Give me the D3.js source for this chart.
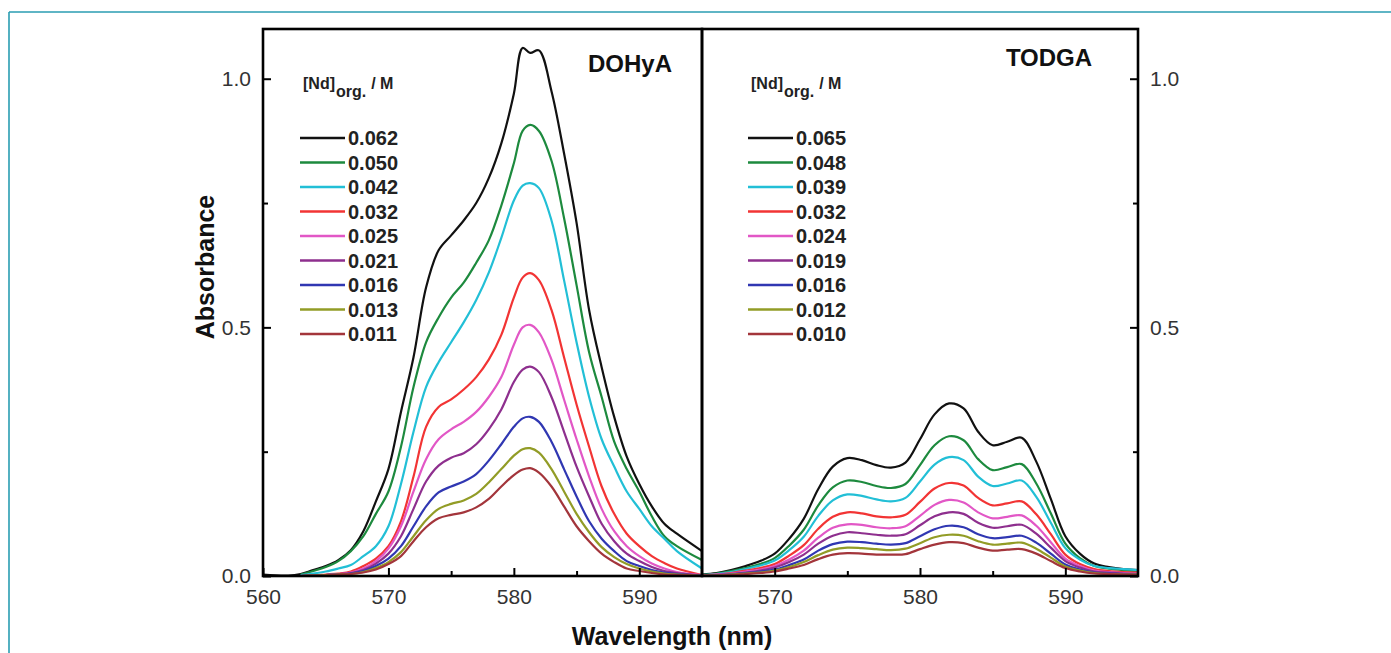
<!DOCTYPE html>
<html>
<head>
<meta charset="utf-8">
<script src="https://cdn.jsdelivr.net/npm/d3@7"></script>
<style>
  body { margin: 0; background: #fff; }
  svg { display: block; font-family: "Liberation Sans", Arial, sans-serif; }
</style>
</head>
<body>
<div id="chart"></div>
<script>
// wavelength grids (nm)
const wlLeft = [560,562,563,564,565,566,567,568,569,570,571,572,573,574,575,576,577,578,579,580,580.7,581.3,582,583,584,585,586,587,588,589,590,591,592,593,595]
const wlRight = [565,566,567,568,569,570,571,572,573,574,575,576,577,578,579,580,581,582,583,584,585,586,587,588,589,590,591,592,593,594,595]

// DOHyA spectra, absorbance
const dohya062 = [0.003,0.001,0.004,0.012,0.02,0.032,0.052,0.09,0.15,0.215,0.33,0.44,0.58,0.655,0.685,0.715,0.75,0.8,0.87,0.97,1.062,1.052,1.057,0.975,0.85,0.71,0.535,0.42,0.32,0.24,0.185,0.14,0.105,0.085,0.05]
const dohya050 = [null,null,0.003,0.01,0.018,0.03,0.05,0.08,0.125,0.17,0.26,0.38,0.47,0.52,0.56,0.59,0.63,0.675,0.745,0.83,0.895,0.907,0.895,0.835,0.72,0.585,0.45,0.36,0.27,0.215,0.17,0.12,0.08,0.06,0.032]
const dohya042 = [null,null,0.002,0.005,0.009,0.015,0.022,0.04,0.06,0.1,0.185,0.29,0.38,0.43,0.47,0.51,0.555,0.61,0.68,0.755,0.785,0.79,0.78,0.715,0.595,0.47,0.36,0.275,0.22,0.17,0.135,0.1,0.075,0.05,0.015]
const dohya032 = [null,null,0,0.001,0.003,0.005,0.009,0.02,0.035,0.06,0.11,0.2,0.3,0.34,0.355,0.375,0.4,0.435,0.485,0.56,0.6,0.609,0.595,0.535,0.44,0.345,0.26,0.18,0.125,0.085,0.06,0.04,0.026,0.015,0.002]
const dohya025 = [null,null,0,0.001,0.002,0.004,0.007,0.015,0.03,0.055,0.1,0.17,0.235,0.275,0.295,0.31,0.33,0.36,0.4,0.465,0.5,0.505,0.49,0.435,0.355,0.275,0.2,0.135,0.09,0.06,0.04,0.025,0.015,0.008,0.002]
const dohya021 = [null,null,0,0.001,0.002,0.004,0.006,0.012,0.025,0.045,0.08,0.135,0.19,0.222,0.238,0.247,0.265,0.295,0.335,0.39,0.415,0.421,0.41,0.36,0.29,0.22,0.16,0.105,0.07,0.045,0.03,0.018,0.01,0.006,0.001]
const dohya016 = [null,null,0,0.001,0.002,0.003,0.005,0.01,0.02,0.035,0.06,0.1,0.14,0.168,0.18,0.19,0.205,0.232,0.265,0.3,0.317,0.32,0.31,0.27,0.215,0.16,0.11,0.075,0.05,0.03,0.02,0.012,0.007,0.004,0.001]
const dohya013 = [null,null,0,0.001,0.002,0.003,0.004,0.008,0.016,0.028,0.048,0.08,0.112,0.135,0.145,0.152,0.165,0.188,0.215,0.242,0.255,0.257,0.248,0.215,0.17,0.125,0.088,0.058,0.038,0.024,0.015,0.009,0.005,0.003,0]
const dohya011 = [null,null,0,0.001,0.001,0.003,0.004,0.007,0.013,0.024,0.04,0.07,0.098,0.116,0.123,0.128,0.138,0.155,0.18,0.203,0.214,0.217,0.208,0.18,0.14,0.1,0.07,0.045,0.028,0.015,0.01,0.006,0.003,0.002,0]

// TODGA spectra, absorbance
const todga065 = [0.003,0.006,0.012,0.02,0.03,0.045,0.075,0.115,0.175,0.22,0.237,0.233,0.223,0.218,0.228,0.275,0.325,0.347,0.337,0.29,0.263,0.27,0.278,0.23,0.155,0.08,0.045,0.025,0.018,0.014,0.012]
const todga048 = [0.002,0.005,0.01,0.016,0.024,0.036,0.061,0.093,0.142,0.178,0.192,0.189,0.181,0.177,0.185,0.223,0.263,0.281,0.273,0.235,0.213,0.219,0.225,0.186,0.126,0.065,0.036,0.02,0.015,0.012,0.01]
const todga039 = [0.002,0.004,0.008,0.014,0.021,0.031,0.052,0.079,0.121,0.152,0.164,0.161,0.154,0.15,0.157,0.19,0.224,0.239,0.233,0.2,0.181,0.186,0.192,0.159,0.107,0.056,0.033,0.02,0.016,0.014,0.012]
const todga032 = [0.002,0.003,0.006,0.011,0.016,0.024,0.041,0.062,0.095,0.119,0.128,0.126,0.12,0.118,0.123,0.149,0.176,0.187,0.182,0.157,0.142,0.146,0.15,0.124,0.084,0.043,0.024,0.014,0.01,0.008,0.007]
const todga024 = [0.001,0.003,0.005,0.009,0.013,0.02,0.033,0.051,0.077,0.097,0.104,0.103,0.098,0.096,0.1,0.121,0.143,0.153,0.148,0.128,0.116,0.119,0.122,0.101,0.068,0.035,0.02,0.011,0.008,0.006,0.005]
const todga019 = [0.001,0.002,0.004,0.007,0.011,0.017,0.028,0.043,0.065,0.081,0.088,0.086,0.083,0.081,0.084,0.102,0.12,0.128,0.125,0.107,0.097,0.1,0.103,0.085,0.057,0.03,0.017,0.009,0.007,0.005,0.004]
const todga016 = [0.001,0.002,0.003,0.006,0.009,0.013,0.022,0.033,0.051,0.064,0.069,0.068,0.065,0.063,0.066,0.08,0.094,0.101,0.098,0.084,0.076,0.078,0.081,0.067,0.045,0.023,0.013,0.007,0.005,0.004,0.003]
const todga012 = [0.001,0.001,0.003,0.005,0.007,0.011,0.018,0.028,0.042,0.053,0.057,0.056,0.054,0.052,0.055,0.066,0.078,0.083,0.081,0.07,0.063,0.065,0.067,0.055,0.037,0.019,0.011,0.006,0.004,0.003,0.003]
const todga010 = [0.001,0.001,0.002,0.004,0.006,0.009,0.015,0.022,0.034,0.043,0.046,0.045,0.043,0.043,0.044,0.054,0.063,0.068,0.066,0.057,0.051,0.053,0.054,0.045,0.03,0.016,0.009,0.005,0.004,0.003,0.002]

// legend labels ([Nd]org. / M)
const concLeft = ['0.062','0.050','0.042','0.032','0.025','0.021','0.016','0.013','0.011']
const concRight = ['0.065','0.048','0.039','0.032','0.024','0.019','0.016','0.012','0.010']
const colors = ['#111111','#1d8a3e','#22bfd6','#f23434','#e257c6','#8e2f8e','#3037b2','#929c26','#a3353b']

// tick values
const xTicksLeft = [560,570,580,590]
const xTicksRight = [570,580,590]
const xMinor = [575,585]
const yTicks = [0,0.5,1.0]
const yMinor = [0.25,0.75]

const leftSeries = [dohya062,dohya050,dohya042,dohya032,dohya025,dohya021,dohya016,dohya013,dohya011]
const rightSeries = [todga065,todga048,todga039,todga032,todga024,todga019,todga016,todga012,todga010]

const W = 1391, H = 653
const plotTop = 29, plotBottom = 576
const xLeft0 = 263, xMid = 702, xRight1 = 1138

const svg = d3.select('#chart').append('svg').attr('width', W).attr('height', H)

// page frame (top & left only)
svg.append('line').attr('x1', 9).attr('x2', W).attr('y1', 12).attr('y2', 12)
    .attr('stroke', '#2a9db2').attr('stroke-width', 1.6)
svg.append('line').attr('x1', 9).attr('x2', 9).attr('y1', 12).attr('y2', H)
    .attr('stroke', '#2a9db2').attr('stroke-width', 1.6)

const yScale = d3.scaleLinear().domain([0, 1.1]).range([plotBottom, plotTop])
const xScaleL = d3.scaleLinear().domain([560, 595]).range([xLeft0, xMid])
const xScaleR = d3.scaleLinear().domain([565, 595]).range([xMid, xRight1])

function drawCurves(xs, wl, series) {
    const line = d3.line()
        .defined(d => d[1] != null)
        .x(d => xs(d[0]))
        .y(d => yScale(Math.max(0, d[1])))
        .curve(d3.curveCatmullRom.alpha(0.5))
    series.forEach((vals, i) => {
        svg.append('path')
            .datum(wl.map((w, j) => [w, vals[j]]))
            .attr('d', line)
            .attr('fill', 'none')
            .attr('stroke', colors[i])
            .attr('stroke-width', 2.2)
            .attr('stroke-linejoin', 'round')
    })
}

drawCurves(xScaleL, wlLeft, leftSeries)
drawCurves(xScaleR, wlRight, rightSeries)

function styleAxis(g) {
    g.select('.domain').remove()
    g.selectAll('line').attr('stroke', '#000').attr('stroke-width', 2)
    g.selectAll('text').style('font-size', '21px').attr('fill', '#333')
}

// bottom axes
svg.append('g').attr('transform', `translate(0,${plotBottom})`)
    .call(d3.axisBottom(xScaleL).tickValues(xTicksLeft).tickSize(-8).tickPadding(13).tickFormat(d3.format('d')))
    .call(styleAxis)
svg.append('g').attr('transform', `translate(0,${plotBottom})`)
    .call(d3.axisBottom(xScaleL).tickValues(xMinor).tickSize(-5).tickFormat(''))
    .call(styleAxis)
svg.append('g').attr('transform', `translate(0,${plotBottom})`)
    .call(d3.axisBottom(xScaleR).tickValues(xTicksRight).tickSize(-8).tickPadding(13).tickFormat(d3.format('d')))
    .call(styleAxis)
svg.append('g').attr('transform', `translate(0,${plotBottom})`)
    .call(d3.axisBottom(xScaleR).tickValues(xMinor).tickSize(-5).tickFormat(''))
    .call(styleAxis)

// left y axis (DOHyA) and right y axis (TODGA)
svg.append('g').attr('transform', `translate(${xLeft0},0)`)
    .call(d3.axisLeft(yScale).tickValues(yTicks).tickSize(-8).tickPadding(12).tickFormat(d3.format('.1f')))
    .call(styleAxis)
svg.append('g').attr('transform', `translate(${xLeft0},0)`)
    .call(d3.axisLeft(yScale).tickValues(yMinor).tickSize(-5).tickFormat(''))
    .call(styleAxis)
svg.append('g').attr('transform', `translate(${xRight1},0)`)
    .call(d3.axisRight(yScale).tickValues(yTicks).tickSize(-8).tickPadding(12).tickFormat(d3.format('.1f')))
    .call(styleAxis)
svg.append('g').attr('transform', `translate(${xRight1},0)`)
    .call(d3.axisRight(yScale).tickValues(yMinor).tickSize(-5).tickFormat(''))
    .call(styleAxis)

// panel frames
svg.append('rect').attr('x', xLeft0).attr('y', plotTop)
    .attr('width', xMid - xLeft0).attr('height', plotBottom - plotTop)
    .attr('fill', 'none').attr('stroke', '#000').attr('stroke-width', 2.6)
svg.append('rect').attr('x', xMid).attr('y', plotTop)
    .attr('width', xRight1 - xMid).attr('height', plotBottom - plotTop)
    .attr('fill', 'none').attr('stroke', '#000').attr('stroke-width', 2.6)

// axis titles
svg.append('text').attr('transform', 'translate(214,267) rotate(-90)')
    .attr('text-anchor', 'middle')
    .style('font-size', '25px').style('font-weight', 'bold').attr('fill', '#111')
    .text('Absorbance')
svg.append('text').attr('x', 672).attr('y', 645)
    .attr('text-anchor', 'middle')
    .style('font-size', '25px').style('font-weight', 'bold').attr('fill', '#111')
    .text('Wavelength (nm)')

// panel names
svg.append('text').attr('x', 630).attr('y', 72).attr('text-anchor', 'middle')
    .style('font-size', '24px').style('font-weight', 'bold').attr('fill', '#111')
    .text('DOHyA')
svg.append('text').attr('x', 1049).attr('y', 66).attr('text-anchor', 'middle')
    .style('font-size', '24px').style('font-weight', 'bold').attr('fill', '#111')
    .text('TODGA')

function drawLegend(x0, conc) {
    const title = svg.append('text').attr('x', x0 + 3).attr('y', 89)
        .style('font-size', '16px').style('font-weight', 'bold').attr('fill', '#222')
    title.append('tspan').text('[Nd]')
    title.append('tspan').attr('dy', 8).attr('dx', 1).text('org.')
    title.append('tspan').attr('dy', -8).attr('dx', 5).text('/ M')

    const rows = svg.append('g')
    conc.forEach((c, i) => {
        const y = 138 + i * 24.5
        rows.append('line').attr('x1', x0).attr('x2', x0 + 45).attr('y1', y).attr('y2', y)
            .attr('stroke', colors[i]).attr('stroke-width', 2.6)
        rows.append('text').attr('x', x0 + 48).attr('y', y + 7)
            .style('font-size', '20px').style('font-weight', 'bold').attr('fill', '#222')
            .text(c)
    })
}

drawLegend(300, concLeft)
drawLegend(748, concRight)
</script>
</body>
</html>
